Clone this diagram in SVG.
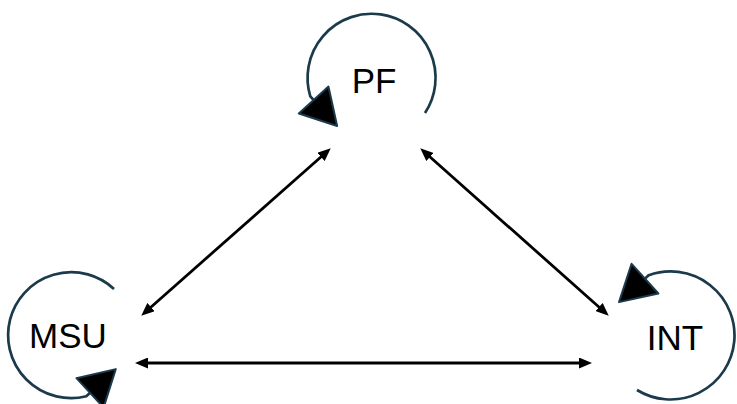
<svg xmlns="http://www.w3.org/2000/svg" width="737" height="404" viewBox="0 0 737 404">
<style>
.lbl{font-family:"Liberation Sans",Arial,sans-serif;font-size:35px;fill:#000;text-anchor:middle}
.loop{fill:none;stroke:#1b3a4b;stroke-width:2.7}
.edge{fill:none;stroke:#000;stroke-width:2.8}
</style>
<defs>
<marker id="big" viewBox="-2 -2 39 44" markerUnits="userSpaceOnUse" markerWidth="39" markerHeight="44" refX="2" refY="20" orient="auto">
<path d="M0,0 L35,20 L0,40 Z" fill="#000" stroke="#1b3a4b" stroke-width="2" stroke-linejoin="round"/>
</marker>
<marker id="small" viewBox="0 0 13 11" markerUnits="userSpaceOnUse" markerWidth="13" markerHeight="11" refX="4" refY="5.5" orient="auto-start-reverse">
<path d="M0,0 L13,5.5 L0,11 Z" fill="#000"/>
</marker>
</defs>
<g id="connectors">
<path class="edge" d="M148,309.7 L324,154.3" marker-start="url(#small)" marker-end="url(#small)"/>
<path class="edge" d="M427,154.3 L602,309.7" marker-start="url(#small)" marker-end="url(#small)"/>
<path class="edge" d="M144,363 L583,363" marker-start="url(#small)" marker-end="url(#small)"/>
<path class="loop" d="M425,113 A64,64 0 1 0 310.3,96.3 L315,101.5" marker-end="url(#big)"/>
<path class="loop" d="M114,289 A63,63 0 1 0 86.3,396.3 L91.5,391.5" marker-end="url(#big)"/>
<path class="loop" d="M637,390 A64,64 0 1 0 648.7,275.3 L643.5,280" marker-end="url(#big)"/>
</g>
<g id="PF"><text class="lbl" x="374" y="93">PF</text></g>
<g id="MSU"><text class="lbl" x="68" y="348">MSU</text></g>
<g id="INT"><text class="lbl" x="675" y="350">INT</text></g>
</svg>
